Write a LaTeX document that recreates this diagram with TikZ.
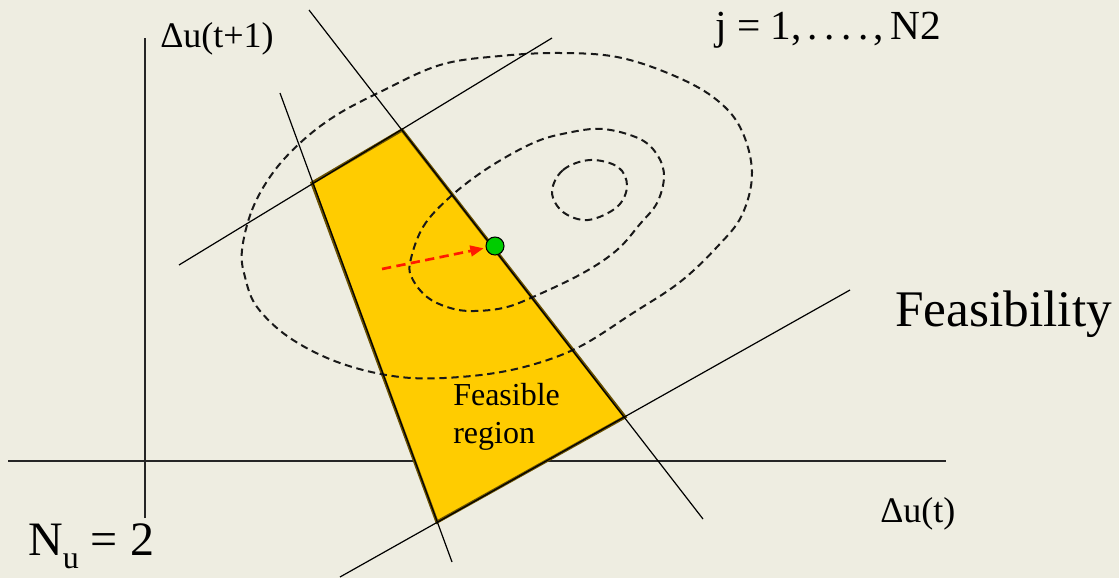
\documentclass[tikz,border=0pt]{standalone}
\usepackage{fontspec}
\setmainfont{Liberation Serif}
\usetikzlibrary{arrows.meta}
\definecolor{bg}{RGB}{238,237,225}
\definecolor{feas}{RGB}{255,204,0}
\definecolor{feasedge}{RGB}{105,80,0}
\definecolor{dotgreen}{RGB}{0,204,0}
\definecolor{arrowred}{RGB}{255,25,0}
\begin{document}
\begin{tikzpicture}[x=0.75pt,y=-0.75pt,
  axis/.style={line width=1.1pt, black!85},
  cline/.style={line width=0.9pt, black},
  contour/.style={line width=1.5pt, black!90, dash pattern=on 5.5pt off 3.5pt},
  lbl/.style={anchor=base west, inner sep=0pt}]
\fill[bg] (0,0) rectangle (1119,578);
\useasboundingbox (0,0) rectangle (1119,578);

% axes
\coordinate (yb) at (145,518);
\coordinate (yt) at (145,38);
\coordinate (xl) at (8,461);
\coordinate (xr) at (946,461);
\draw[axis] (yb) -- (yt);
\draw[axis] (xl) -- (xr);

% feasible region
\coordinate (A) at (312,183);
\coordinate (B) at (402,130);
\coordinate (C) at (625,417);
\coordinate (D) at (437,522);
\fill[feas] (A) -- (B) -- (C) -- (D) -- cycle;
\draw[feasedge, line width=2.4pt, line join=miter] (A) -- (B) -- (C) -- (D) -- cycle;

% contours
\draw[contour] plot[smooth cycle, tension=0.6] coordinates {
 (242,250) (252,210) (272,174) (300,143) (335,116) (380,92) (440,65) (500,56)
 (560,53) (617,57) (670,74) (713,97) (740,127) (752,172) (742,215) (717,247)
 (680,282) (633,313) (577,348) (520,368) (460,377) (400,377) (340,363)
 (290,338) (257,307) (245,277)};
\draw[contour] plot[smooth cycle, tension=0.6] coordinates {
 (410,263) (423,227) (450,197) (488,168) (533,143) (567,133) (603,129)
 (640,139) (658,156) (664,177) (657,203) (640,224) (617,250) (583,273)
 (533,297) (503,308) (470,311) (447,307) (427,297) (413,280)};
\draw[contour] plot[smooth cycle, tension=0.6] coordinates {
 (552,192) (563,170) (590,160) (618,167) (627,186) (617,207) (588,220) (563,212)};

% constraint lines
\coordinate (l1s) at (179,265); \coordinate (l1e) at (552,38);
\coordinate (l2s) at (280,93);  \coordinate (l2e) at (452,562);
\coordinate (l3s) at (309,10);  \coordinate (l3e) at (703,519);
\coordinate (l4s) at (340,577); \coordinate (l4e) at (850,290);
\draw[cline] (l1s) -- (l1e);
\draw[cline] (l2s) -- (l2e);
\draw[cline] (l3s) -- (l3e);
\draw[cline] (l4s) -- (l4e);

% optimum and arrow
\node[circle, fill=dotgreen, draw=black, line width=0.8pt, minimum size=13.5pt, inner sep=0pt] (opt) at (495,246) {};
\coordinate (start) at (382,269);
\draw[arrowred, line width=2pt, dash pattern=on 7pt off 4pt,
  -{Triangle[length=10pt,width=8pt]}, shorten >=1.5pt] (start) -- (opt);

% labels
\node[lbl, font=\fontsize{27pt}{32pt}\selectfont] (ylab) at (160,47) {Δu(t+1)};
\node[lbl, font=\fontsize{27pt}{32pt}\selectfont] (xlab) at (880,522) {Δu(t)};
\node[lbl, font=\fontsize{31pt}{36pt}\selectfont] (jlab) at (715,39) {j = 1,\kern4pt.\kern5pt.\kern5pt.\kern5pt.\kern4pt,\kern5pt N2};
\node[lbl, font=\fontsize{38.5pt}{44pt}\selectfont] (feas) at (895,326) {Feasibility};
\node[lbl, font=\fontsize{36pt}{42pt}\selectfont] (nu) at (28,555) {N\raisebox{-0.28em}{\fontsize{24pt}{24pt}\selectfont u} = 2};
\node[lbl, font=\fontsize{24pt}{28pt}\selectfont] (fr1) at (453,405) {Feasible};
\node[lbl, font=\fontsize{24pt}{28pt}\selectfont] (fr2) at (453,443) {region};
\end{tikzpicture}
\end{document}
